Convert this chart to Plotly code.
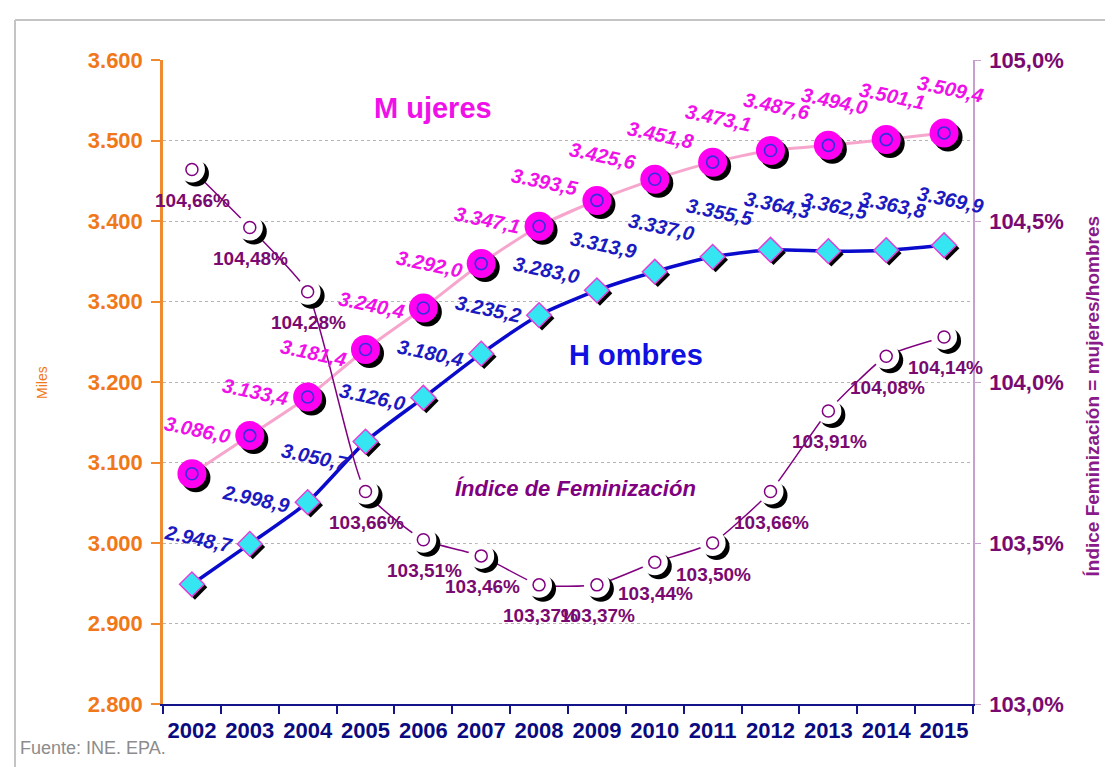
import plotly.graph_objects as go

# ---------------- data ----------------
years = [2002, 2003, 2004, 2005, 2006, 2007, 2008, 2009, 2010, 2011, 2012, 2013, 2014, 2015]
mujeres = [3086.0, 3133.4, 3181.4, 3240.4, 3292.0, 3347.1, 3393.5, 3425.6, 3451.8, 3473.1, 3487.6, 3494.0, 3501.1, 3509.4]
hombres = [2948.7, 2998.9, 3050.7, 3126.0, 3180.4, 3235.2, 3283.0, 3313.9, 3337.0, 3355.5, 3364.3, 3362.5, 3363.8, 3369.9]
indice = [104.66, 104.48, 104.28, 103.66, 103.51, 103.46, 103.37, 103.37, 103.44, 103.50, 103.66, 103.91, 104.08, 104.14]
left_ticks = [2800, 2900, 3000, 3100, 3200, 3300, 3400, 3500, 3600]
right_ticks = [103.0, 103.5, 104.0, 104.5, 105.0]

# ---------------- geometry ----------------
W, H = 1113, 767
ML, MR, MT, MB = 155, 148, 52, 71
PW, PH = W - ML - MR, H - MT - MB
X0, X1 = years[0] - 0.5, years[-1] + 0.5
Y0, Y1 = left_ticks[0], left_ticks[-1]
Z0, Z1 = right_ticks[0], right_ticks[-1]


def dx(px):
    return px * (X1 - X0) / PW


def dy(px):
    return px * (Y1 - Y0) / PH


def dz(px):
    return px * (Z1 - Z0) / PH


def px_x(px):
    return (px - ML) / PW


def px_y(py):
    return (H - MB - py) / PH


def es_num(v, dec=1):
    s = f"{v:,.{dec}f}"
    return s.replace(",", "X").replace(".", ",").replace("X", ".")


ORANGE = "#F07818"
NAVY = "#0A0A80"
PURPLE = "#7A0A70"
MAGENTA = "#F010E8"
BLUE = "#1515D0"
FONT = "Arial, Liberation Sans, sans-serif"

fig = go.Figure()

# lines
fig.add_trace(go.Scatter(x=years, y=mujeres, mode="lines",
                         line=dict(color="#F6A6CC", width=3, shape="spline", smoothing=0.6),
                         hoverinfo="skip", showlegend=False))
fig.add_trace(go.Scatter(x=years, y=hombres, mode="lines",
                         line=dict(color="#0A0ACC", width=3.5, shape="spline", smoothing=0.6),
                         hoverinfo="skip", showlegend=False))

# Mujeres markers (shadow, disc, inner ring)
fig.add_trace(go.Scatter(x=[v + dx(4) for v in years], y=[v - dy(4) for v in mujeres], mode="markers",
                         marker=dict(symbol="circle", size=29, color="black", line=dict(width=0)),
                         hoverinfo="skip", showlegend=False))
fig.add_trace(go.Scatter(x=years, y=mujeres, mode="markers",
                         marker=dict(symbol="circle", size=29, color="#FF00F0", line=dict(width=0)),
                         showlegend=False))
fig.add_trace(go.Scatter(x=years, y=mujeres, mode="markers",
                         marker=dict(symbol="circle-open", size=12, color="#3030E0", line=dict(width=1.6)),
                         hoverinfo="skip", showlegend=False))

# Hombres markers (shadow, diamond)
fig.add_trace(go.Scatter(x=[v + dx(3) for v in years], y=[v - dy(3) for v in hombres], mode="markers",
                         marker=dict(symbol="diamond", size=19, color="black", line=dict(width=0)),
                         hoverinfo="skip", showlegend=False))
fig.add_trace(go.Scatter(x=years, y=hombres, mode="markers",
                         marker=dict(symbol="diamond", size=19, color="#35E6F2",
                                     line=dict(color="#E040D8", width=1.5)),
                         showlegend=False))

# Indice (right axis)
fig.add_trace(go.Scatter(x=years, y=indice, mode="lines", yaxis="y2",
                         line=dict(color="#800080", width=1.5, shape="spline", smoothing=0.5),
                         hoverinfo="skip", showlegend=False))
fig.add_trace(go.Scatter(x=[v + dx(4) for v in years], y=[v - dz(4) for v in indice], mode="markers",
                         yaxis="y2",
                         marker=dict(symbol="circle", size=26, color="black", line=dict(width=0)),
                         hoverinfo="skip", showlegend=False))
fig.add_trace(go.Scatter(x=years, y=indice, mode="markers", yaxis="y2",
                         marker=dict(symbol="circle", size=26, color="white", line=dict(width=0)),
                         showlegend=False))
fig.add_trace(go.Scatter(x=years, y=indice, mode="markers", yaxis="y2",
                         marker=dict(symbol="circle-open", size=12, color="#800080", line=dict(width=1.5)),
                         hoverinfo="skip", showlegend=False))

annotations = []
# data labels
for x, v in zip(years, mujeres):
    annotations.append(dict(x=x, y=v, xref="x", yref="y", text=f"<b><i>{es_num(v)}</i></b>",
                            showarrow=False, xshift=6, yshift=44, textangle=12,
                            font=dict(family=FONT, size=20, color=MAGENTA)))
for x, v in zip(years, hombres):
    annotations.append(dict(x=x, y=v, xref="x", yref="y", text=f"<b><i>{es_num(v)}</i></b>",
                            showarrow=False, xshift=7, yshift=45, textangle=12,
                            font=dict(family=FONT, size=20, color="#1A1AC0")))
for x, v in zip(years, indice):
    annotations.append(dict(x=x, y=v, xref="x", yref="y2", text=f"<b>{es_num(v, 2)}%</b>",
                            showarrow=False, xshift=1, yshift=-31,
                            font=dict(family=FONT, size=19, color=PURPLE)))

# series titles
annotations += [
    dict(x=px_x(425), y=px_y(82), xref="paper", yref="paper", text="<b>M ujeres</b>", showarrow=False,
         font=dict(family=FONT, size=29, color=MAGENTA)),
    dict(x=px_x(697), y=px_y(347), xref="paper", yref="paper", text="<b>H ombres</b>", showarrow=False,
         font=dict(family=FONT, size=29, color="#1010E0")),
    dict(x=px_x(567), y=px_y(495), xref="paper", yref="paper", text="<b><i>Índice de Feminización</i></b>",
         showarrow=False, font=dict(family=FONT, size=22, color="#800080")),
    dict(x=px_x(10), y=px_y(752), xref="paper", yref="paper", xanchor="left", text="Fuente: INE. EPA.",
         showarrow=False, font=dict(family=FONT, size=18, color="#8C8C8C")),
    dict(x=px_x(24), y=px_y(375), xref="paper", yref="paper", text="Miles", textangle=-90,
         showarrow=False, font=dict(family=FONT, size=14, color=ORANGE)),
    dict(x=px_x(1096), y=px_y(388), xref="paper", yref="paper",
         text="<b>Índice Feminización = mujeres/hombres</b>", textangle=-90,
         showarrow=False, font=dict(family=FONT, size=19, color="#8A1A8A")),
]

shapes = [
    dict(type="line", xref="paper", yref="paper", x0=px_x(7), x1=px_x(1120), y0=px_y(12), y1=px_y(12),
         line=dict(color="#C4C4C4", width=2)),
    dict(type="line", xref="paper", yref="paper", x0=px_x(7), x1=px_x(7), y0=px_y(12), y1=px_y(780),
         line=dict(color="#C4C4C4", width=2)),
]

fig.update_layout(
    width=W, height=H,
    margin=dict(l=ML, r=MR, t=MT, b=MB),
    paper_bgcolor="white", plot_bgcolor="white",
    separators=",.",
    showlegend=False,
    font=dict(family=FONT),
    xaxis=dict(range=[X0, X1], tickvals=years, ticktext=[str(y) for y in years],
               ticks="", showgrid=False, zeroline=False,
               showline=True, linecolor="#14148A", linewidth=2,
               tickfont=dict(family=FONT, size=22, color=NAVY, weight="bold"),
               ticklabelstandoff=6,
               minor=dict(tickvals=[y - 0.5 for y in years] + [years[-1] + 0.5], ticks="outside",
                          ticklen=8, tickwidth=1.5, tickcolor="#14148A", showgrid=False)),
    yaxis=dict(range=[Y0, Y1], tickvals=left_ticks, ticktext=[es_num(v, 0) for v in left_ticks],
               showgrid=True, gridcolor="#B4B4B4", griddash="dot", gridwidth=1, zeroline=False,
               showline=True, linecolor="#F08A30", linewidth=2.5,
               ticks="outside", ticklen=9, tickwidth=2, tickcolor="#F08A30",
               tickfont=dict(family=FONT, size=22, color=ORANGE, weight="bold"), ticklabelstandoff=4),
    yaxis2=dict(range=[Z0, Z1], overlaying="y", side="right", tickvals=right_ticks,
                ticktext=[es_num(v, 1) + "%" for v in right_ticks],
                showgrid=False, zeroline=False, showline=True, linecolor="#C8A0D0", linewidth=1.5,
                ticks="outside", ticklen=6, tickwidth=1, tickcolor="#C8A0D0",
                tickfont=dict(family=FONT, size=22, color=PURPLE, weight="bold"), ticklabelstandoff=4),
    annotations=annotations,
    shapes=shapes,
)

fig.write_html("out.html")
